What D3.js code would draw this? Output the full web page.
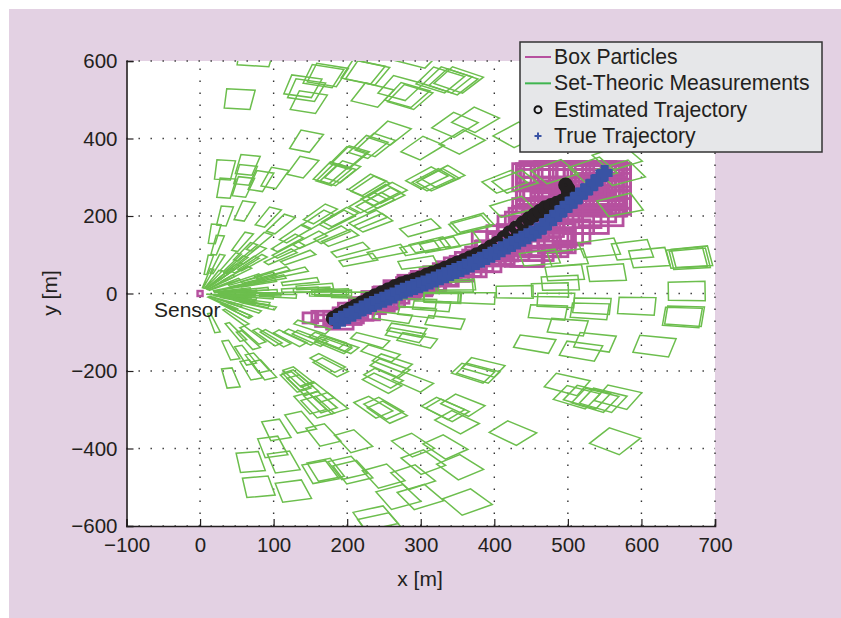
<!DOCTYPE html>
<html>
<head>
<meta charset="utf-8">
<script src="https://cdn.jsdelivr.net/npm/d3@7"></script>
<style>
  html,body{margin:0;padding:0;background:#fff;}
  text{font-family:"Liberation Sans",Arial,sans-serif;fill:#231f20;}
</style>
</head>
<body>
<svg id="chart" width="841" height="618"></svg>
<script>
const xTicks=[-100,0,100,200,300,400,500,600,700];
const yTicks=[-600,-400,-200,0,200,400,600];
const legendLabels=["Box Particles","Set-Theoric Measurements","Estimated Trajectory","True Trajectory"];

const measX=[53,75,167,139,144,147,227,173,221,234,144,139,33,64,61,35,58,82,101,177,187,204,228,227,238,228,
  33,60,92,109,19,57,80,23,11,23,163,160,186,129,118,149,120,109,133,190,204,215,228,179,61,71,41,48,37,30,61,71,79,98,122,136,79,92,68,52,106,136,152,177,156,174,34,52,
  52,79,48,48,18,71,48,41,65,91,102,122,136,61,86,69,77,41,173,133,129,139,159,149,173,181,152,132,163,149,136,103,167,208,98,68,113,79,126,163,170,200,207,249,289,333,303,353,289,269,299,363,238,249,254,159,177,336,349,245,
  371,378,385,357,425,564,499,512,526,548,568,537,455,537,518,618,500,656,659,530,533,594,473,484,662,428,476,490,496,553,462,543,588,611,662,666,669,500,572,571,534,482,428,424,367,370,567,
  376,329,333,315,295,262,231,281,279,295,190,181,245,261,258,247,289,249,177,330,235,349,330,296,204,181,346,
  245,251,308,323,235,190,299,254,299,312,326,296,353,336,344,351,326,281,285,272,258,238,302,346,374,356,201,193,181,317,330,231,254,295,414,431,
  10,17,23,28,33,42,44,50,50,45,43,35,30,50,40,60,65,80,85,75,70,60,50,70];
const measY=[502,613,561,535,525,494,569,564,572,512,393,326,319,332,306,272,275,290,298,311,306,352,378,280,234,234,
  200,213,197,179,154,133,133,125,74,76,205,190,190,154,130,138,112,94,92,143,112,86,190,151,107,99,81,74,53,43,74,79,40,53,53,30,27,35,9,4,-6,9,9,4,17,-1,-6,-9,
  -17,-30,-43,-61,-76,-107,-99,-146,-120,-112,-115,-115,-112,-159,-197,-197,-179,-218,-179,-215,-228,-236,-254,-115,-120,-133,-86,-223,-280,-283,-332,-352,-365,-381,-396,-435,-435,-499,-510,-461,-455,-450,-461,-471,-391,-396,-435,-448,-474,-525,-525,-538,-580,-296,-306,-293,-283,-301,-332,-598,
  -205,-205,-190,-288,-360,-381,-234,-267,-267,-275,-267,-275,-130,-125,-148,-135,-86,-61,-58,-45,-32,-32,-48,-17,6,4,9,27,53,53,92,117,112,92,92,89,94,92,311,228,319,314,288,223,177,182,350,
  -12,-9,-74,-32,-48,-61,-120,-94,-107,-120,-133,-128,-154,-179,-192,-231,-228,-218,-190,-296,-293,22,-12,-25,-4,1,17,
  254,246,298,293,182,197,169,107,117,125,125,79,138,551,546,551,551,512,507,530,414,383,375,435,448,391,350,314,306,293,301,275,259,615,288,409,
  39,36,33,28,23,15,8,3,-3,-6,-12,-20,-25,50,57,35,25,5,-2,-8,-20,-35,-45,-25];

// true and estimated trajectories
const trueX=[186,193,200,207,214,221,228,235,242,249,256,263,270,277,284,291,298,305,312,319,326,333,340,347,354,361,368,375,382,389,396,403,410,417,424,431,438,445,452,459,466,473,480,487,494,501,508,515,522,529,536,543,550];
const trueY=[-71,-65,-59,-52,-46,-39,-33,-27,-21,-16,-10,-5,2,7,12,17,21,26,31,36,42,47,53,58,63,69,75,81,87,94,100,107,114,121,128,134,141,148,155,162,173,184,195,206,218,229,240,252,263,274,286,298,311];
const estX=[181,188,196,204,212,220,229,238,247,256,265,274,282,291,299,308,316,325,333,342,350,359,367,376,386,395,404,413,421,430,439,447,455,462,469,477,485,492,496,500,501,500,497];
const estY=[-64,-56,-48,-40,-32,-24,-15,-6,2,10,18,25,30,35,40,47,53,59,65,72,79,85,92,100,110,120,130,144,157,170,182,193,203,212,221,227,233,238,241,250,259,270,280];

// box particles: centre and size [m]
const partX=[150,165,172,183,190,196,205,212,222,226,238,244,254,260,270,278,288,296,306,314,324,332,342,350,360,368,378,386,396,404,414,420,432,440,448,456,466,474,
  200,208,216,224,232,240,248,256,264,272,280,288,296,304,312,320,328,336,344,352,360,368,376,384,392,400,408,416,424,432,
  470,480,495,510,520,530,535,540,545,550,555,560,555,548,530,500,510,490,470,450,440,475,520,450,495,505,515,525,535,545,500,515,470,480,
  445,465,485,505,525,545,560,460,465,470,490,500,510,520,530,540,550,560,480,490,500,510,520,530,540,550,440,455,470,485,400,415,430,445,460,475];
const partY=[-63,-58,-70,-62,-80,-52,-62,-40,-30,-48,-14,-28,-2,-14,14,4,28,14,38,26,50,38,62,50,76,64,92,78,112,98,130,112,150,128,165,150,180,170,
  -60,-44,-48,-30,-32,-16,-20,-4,-6,10,8,22,18,32,28,44,40,56,52,70,64,84,78,98,94,114,108,130,124,146,
  255,280,300,300,295,300,285,260,270,250,280,250,240,225,215,190,200,165,130,115,95,150,235,220,285,270,285,270,300,290,310,315,260,240,
  95,120,135,160,185,200,215,300,280,310,250,240,255,245,260,240,265,300,320,305,290,315,280,305,290,320,180,195,215,225,130,145,170,190,120,135];
const partW=[20,26,30,30,36,30,34,30,34,36,36,40,38,36,40,36,38,38,38,40,40,38,40,42,40,42,42,46,44,46,48,54,56,56,52,66,56,66,
  38,40,38,42,40,38,42,38,40,40,38,42,40,38,40,42,40,38,42,40,44,42,44,46,44,48,48,50,52,54,
  80,100,120,110,90,90,80,70,80,60,50,50,60,60,70,70,70,60,60,60,50,70,70,50,110,100,110,100,100,80,130,120,70,80,
  45,50,50,50,60,60,40,70,70,80,60,70,60,80,70,60,70,50,90,110,100,90,80,90,70,60,50,60,60,70,60,50,50,50,50,60];
const partH=[26,24,30,32,24,30,28,30,36,40,38,36,36,40,38,36,38,40,38,36,38,38,40,36,40,42,40,44,46,46,50,52,56,60,56,66,66,70,
  40,38,42,38,40,38,40,42,38,40,42,38,40,38,42,40,38,42,40,44,40,44,42,44,46,44,48,50,48,52,
  90,100,70,80,80,70,90,90,100,90,100,90,70,50,60,70,60,80,70,60,50,60,70,50,90,100,90,100,70,90,60,50,80,60,
  50,50,60,60,60,50,30,70,80,50,80,70,90,70,80,70,90,70,40,60,80,50,100,60,90,40,60,60,60,70,60,60,60,60,50,50];
const sensorX=[0], sensorY=[0];

// measurement box half widths
const rangeHalf=25, bearingHalf=2.1*Math.PI/180;

const colBg="#e3d1e3", colBox="#b6519f", colMeas="#6cbe4d", colLegGreen="#3fb54f", colEst="#231f20", colTrue="#3953a4", colText="#231f20";

const svg=d3.select("#chart");
svg.append("rect").attr("x",9).attr("y",9).attr("width",832).attr("height",609).attr("fill",colBg);

const x=d3.scaleLinear().domain([-100,700]).range([126.5,715]);
const y=d3.scaleLinear().domain([-600,600]).range([526,61]);

svg.append("rect").attr("x",x(-100)).attr("y",y(600))
  .attr("width",x(700)-x(-100)).attr("height",y(-600)-y(600)).attr("fill","#fff");

svg.append("defs").append("clipPath").attr("id","plotClip").append("rect")
  .attr("x",x(-100)).attr("y",y(600)).attr("width",x(700)-x(-100)).attr("height",y(-600)-y(600));

// 网格
const grid=svg.append("g").attr("stroke","#333").attr("stroke-width",1.4).attr("stroke-dasharray","1.4 10.6");
grid.selectAll("line.v").data(xTicks.slice(1)).join("line").attr("class","v")
  .attr("x1",d=>x(d)).attr("x2",d=>x(d)).attr("y1",y(-600)).attr("y2",y(600));
grid.selectAll("line.h").data(yTicks).join("line").attr("class","h")
  .attr("y1",d=>y(d)).attr("y2",d=>y(d)).attr("x1",x(-100)).attr("x2",x(700));

const plot=svg.append("g").attr("clip-path","url(#plotClip)");

// box particles
plot.append("g").attr("fill","none").attr("stroke",colBox).attr("stroke-width",2.8)
  .selectAll("rect").data(partX).join("rect")
  .attr("x",(d,i)=>x(d-partW[i]/2))
  .attr("y",(d,i)=>y(partY[i]+partH[i]/2))
  .attr("width",(d,i)=>x(d+partW[i]/2)-x(d-partW[i]/2))
  .attr("height",(d,i)=>y(partY[i]-partH[i]/2)-y(partY[i]+partH[i]/2));

// 量测四边形: range/bearing box around each centre
function measCorners(mx,my){
  const r=Math.hypot(mx,my), th=Math.atan2(my,mx);
  const r0=Math.max(r-rangeHalf,2), r1=r+rangeHalf;
  return [[r0,th-bearingHalf],[r1,th-bearingHalf],[r1,th+bearingHalf],[r0,th+bearingHalf]]
    .map(p=>[x(p[0]*Math.cos(p[1])),y(p[0]*Math.sin(p[1]))]);
}
plot.append("g").attr("fill","none").attr("stroke",colMeas).attr("stroke-width",1.5)
  .selectAll("polygon").data(measX).join("polygon")
  .attr("points",(d,i)=>measCorners(d,measY[i]).map(p=>p.join(",")).join(" "));

// sensor
plot.selectAll("rect.sensor").data(sensorX).join("rect").attr("class","sensor")
  .attr("x",d=>x(d)-2.5).attr("y",(d,i)=>y(sensorY[i])-2.5).attr("width",5).attr("height",5)
  .attr("fill","#f3e3f0").attr("stroke",colBox).attr("stroke-width",2.4);

// estimated trajectory
plot.append("g").selectAll("circle").data(estX).join("circle")
  .attr("cx",d=>x(d)).attr("cy",(d,i)=>y(estY[i])).attr("r",4.5)
  .attr("fill","none").attr("stroke",colEst).attr("stroke-width",6);

// true trajectory
const plusPath=s=>`M${-s},0H${s}M0,${-s}V${s}`;
plot.append("g").selectAll("path").data(trueX).join("path")
  .attr("transform",(d,i)=>`translate(${x(d)},${y(trueY[i])})`)
  .attr("d",plusPath(8)).attr("fill","none").attr("stroke",colTrue).attr("stroke-width",8);

// axes
const xAxis=d3.axisBottom(x).tickValues(xTicks).tickSize(-7).tickPadding(11).tickFormat(d3.format("d"));
const yAxis=d3.axisLeft(y).tickValues(yTicks).tickSize(-7).tickPadding(9).tickFormat(d3.format("d"));
function styleAxis(g){
  g.selectAll("path").attr("stroke","#231f20").attr("stroke-width",1.6);
  g.selectAll("line").attr("stroke","#231f20").attr("stroke-width",1.2);
  g.selectAll("text").attr("font-size",20.5).attr("font-family","Liberation Sans").attr("fill",colText);
}
svg.append("g").attr("transform",`translate(0,${y(-600)})`).call(xAxis).call(styleAxis);
svg.append("g").attr("transform",`translate(${x(-100)},0)`).call(yAxis).call(styleAxis);

svg.append("text").attr("x",420).attr("y",586).attr("text-anchor","middle").attr("font-size",21).text("x [m]");
svg.append("text").attr("transform","translate(57,293) rotate(-90)").attr("text-anchor","middle").attr("font-size",21).text("y [m]");
svg.append("text").attr("x",154).attr("y",317).attr("font-size",21).text("Sensor");

// legend
const legend=svg.append("g");
legend.append("rect").attr("x",520).attr("y",42).attr("width",302).attr("height",110)
  .attr("fill","#e6e7e9").attr("stroke","#333").attr("stroke-width",1.5);
const legendY=d3.scalePoint().domain(legendLabels).range([57,136]);
legend.selectAll("text").data(legendLabels).join("text")
  .attr("x",554).attr("y",d=>legendY(d)+7).attr("font-size",21.2).text(d=>d);
legend.append("line").attr("x1",525).attr("x2",551).attr("y1",legendY(legendLabels[0])).attr("y2",legendY(legendLabels[0]))
  .attr("stroke",colBox).attr("stroke-width",2);
legend.append("line").attr("x1",525).attr("x2",551).attr("y1",legendY(legendLabels[1])).attr("y2",legendY(legendLabels[1]))
  .attr("stroke",colLegGreen).attr("stroke-width",2);
legend.append("circle").attr("cx",538).attr("cy",legendY(legendLabels[2])).attr("r",3.5)
  .attr("fill","none").attr("stroke","#111").attr("stroke-width",2);
legend.append("path").attr("transform",`translate(538,${legendY(legendLabels[3])})`)
  .attr("d",plusPath(3.5)).attr("fill","none").attr("stroke",colTrue).attr("stroke-width",2);
</script>
</body>
</html>
